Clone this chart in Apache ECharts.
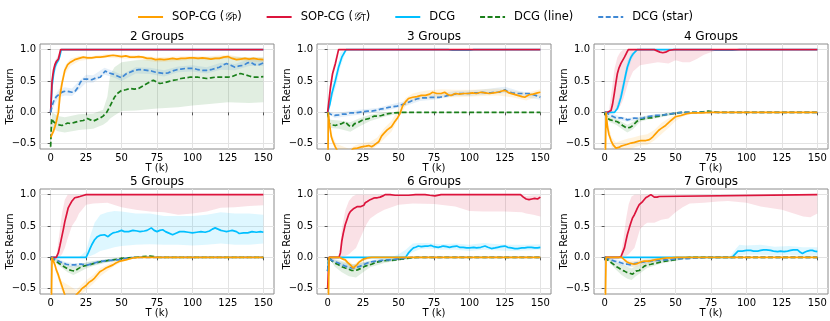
<!DOCTYPE html>
<html>
<head>
<meta charset="utf-8">
<script src="https://cdn.jsdelivr.net/npm/echarts@6/dist/echarts.min.js"></script>
<style>html,body{margin:0;padding:0;background:#fff}#c{width:830px;height:321px}</style>
</head>
<body>
<div id="c"></div>
<script>
// ---------- data ----------
const SERIES_NAMES = ['SOP-CG (GP)', 'SOP-CG (GT)', 'DCG', 'DCG (line)', 'DCG (star)'];
const PANEL_TITLES = ['2 Groups', '3 Groups', '4 Groups', '5 Groups', '6 Groups', '7 Groups'];
const X_TICKS = [0, 25, 50, 75, 100, 125, 150];
const Y_TICKS = [-0.5, 0, 0.5, 1.0];

// ---- 2 Groups ----
const g2_sopP = [[0,-0.4],[1,-0.37],[2,-0.3],[3,-0.23],[4,-0.15],[5.5,0],[6.5,0.25],[8,0.46],[10,0.67],[12,0.76],[14,0.8],[17,0.84],[20,0.86],[23,0.88],[26,0.87],[29,0.87],[32,0.88],[35,0.88],[38,0.89],[41,0.9],[44,0.91],[47,0.9],[50,0.89],[53,0.9],[56,0.88],[59,0.88],[62,0.89],[65,0.88],[68,0.86],[71,0.86],[74,0.84],[77,0.85],[80,0.84],[83,0.85],[86,0.86],[89,0.85],[92,0.86],[95,0.86],[98,0.87],[101,0.87],[104,0.86],[107,0.87],[110,0.86],[113,0.85],[116,0.86],[119,0.86],[122,0.88],[125,0.89],[128,0.86],[131,0.84],[134,0.85],[137,0.86],[140,0.85],[143,0.86],[146,0.85],[150,0.84]];
const g2_sopT = [[0,0],[1,0.5],[2,0.67],[3,0.76],[4,0.81],[5.5,0.85],[6.3,0.88],[7,1],[150,1]];
const g2_dcg  = [[0,0],[1,0.42],[2,0.6],[3,0.72],[4,0.78],[5.5,0.83],[6.5,0.9],[7.5,1],[150,1]];
const g2_line = [[0,-0.55],[0.7,-0.1],[2,-0.15],[4,-0.18],[6,-0.2],[8,-0.21],[10,-0.19],[12,-0.17],[14,-0.18],[17,-0.16],[20,-0.14],[23,-0.13],[26,-0.1],[28,-0.12],[30,-0.14],[32,-0.12],[35,-0.09],[37,-0.06],[39.5,0],[41,0.06],[43,0.15],[45,0.24],[47,0.3],[50,0.35],[53,0.36],[56,0.38],[59,0.37],[62,0.38],[65,0.42],[68,0.46],[71,0.5],[72.5,0.51],[75,0.48],[77,0.46],[80,0.47],[83,0.49],[86,0.51],[89,0.52],[92,0.54],[95,0.55],[98,0.56],[101,0.56],[104,0.56],[107,0.55],[110,0.54],[113,0.55],[116,0.56],[119,0.56],[122,0.56],[125,0.56],[128,0.57],[131,0.6],[134,0.62],[137,0.6],[140,0.58],[143,0.56],[146,0.56],[150,0.57]];
const g2_star = [[0,0.0],[1,0.1],[2,0.17],[3,0.21],[4,0.25],[5.5,0.28],[7,0.31],[9,0.33],[11,0.34],[13,0.33],[15,0.32],[17,0.33],[19,0.39],[21,0.48],[23,0.53],[26,0.53],[29,0.52],[32,0.55],[35,0.56],[37,0.62],[38.5,0.66],[41,0.63],[44,0.61],[47,0.58],[50,0.55],[53,0.61],[56,0.64],[59,0.67],[62,0.68],[65,0.68],[68,0.67],[71,0.66],[74,0.64],[77,0.63],[80,0.62],[83,0.63],[86,0.66],[89,0.68],[92,0.69],[95,0.7],[98,0.7],[101,0.7],[104,0.68],[107,0.67],[110,0.67],[113,0.68],[116,0.7],[119,0.72],[122,0.76],[124,0.78],[127,0.75],[130,0.72],[133,0.74],[136,0.75],[139,0.79],[141,0.8],[144,0.76],[147,0.76],[150,0.79]];
const g2_sopP_band = [[0,-0.45,-0.35],[3,-0.3,-0.15],[6,0.0,0.35],[8,0.38,0.55],[10,0.6,0.74],[14,0.74,0.86],[20,0.82,0.9],[30,0.85,0.9],[40,0.87,0.93],[50,0.86,0.92],[60,0.85,0.91],[75,0.8,0.88],[90,0.82,0.89],[100,0.84,0.9],[110,0.83,0.89],[125,0.85,0.92],[135,0.82,0.88],[150,0.8,0.87]];
const g2_sopT_band = [[0,0,0],[1,0.42,0.56],[3,0.7,0.82],[5,0.8,0.9],[7,1,1]];
const g2_dcg_band  = [[0,0,0],[1,0.34,0.5],[3,0.64,0.8],[5,0.76,0.88],[7.5,1,1]];
const g2_line_band = [[0,-0.6,-0.5],[1,-0.25,0.0],[5,-0.3,-0.06],[10,-0.32,-0.08],[20,-0.28,-0.03],[30,-0.26,-0.02],[37,-0.2,0.04],[40,-0.15,0.25],[42,-0.1,0.6],[45,-0.05,0.72],[50,0.02,0.8],[60,0.03,0.83],[75,0.06,0.85],[90,0.08,0.86],[100,0.11,0.87],[110,0.13,0.88],[125,0.16,0.89],[140,0.15,0.88],[150,0.16,0.88]];
const g2_star_band = [[0,0,0.04],[3,0.13,0.27],[6,0.24,0.37],[10,0.27,0.4],[15,0.26,0.38],[20,0.36,0.5],[25,0.47,0.6],[30,0.47,0.59],[38,0.6,0.71],[45,0.55,0.65],[50,0.5,0.6],[60,0.62,0.72],[70,0.61,0.71],[80,0.57,0.67],[90,0.64,0.73],[100,0.65,0.75],[110,0.62,0.72],[120,0.68,0.79],[130,0.67,0.77],[140,0.74,0.85],[150,0.74,0.84]];

// ---- 3 Groups ----
const g3_sopP = [[0,-1.5],[0.5,0],[1,-0.14],[2.6,-0.39],[4,-0.48],[5.4,-0.55],[7,-0.62],[10,-0.68],[15,-0.66],[18,-0.58],[21,-0.57],[24,-0.55],[27,-0.54],[29,-0.53],[31,-0.55],[33,-0.52],[36,-0.47],[38,-0.38],[39.5,-0.34],[42,-0.28],[45,-0.23],[47,-0.16],[49,-0.1],[51,-0.02],[53,0.11],[55,0.17],[57,0.22],[60,0.24],[63,0.25],[66,0.27],[69,0.27],[72,0.29],[74,0.32],[77,0.3],[80,0.3],[82.5,0.32],[85,0.28],[87,0.27],[90,0.3],[93,0.29],[96,0.3],[99,0.3],[102,0.31],[105,0.3],[108,0.32],[111,0.31],[114,0.3],[117,0.31],[120,0.32],[123,0.34],[125,0.35],[128,0.31],[131,0.29],[134,0.27],[137,0.25],[139,0.24],[142,0.28],[145,0.29],[148,0.31],[150,0.32]];
const g3_sopT = [[0,0],[1,0.2],[2,0.4],[3.5,0.62],[5.5,0.78],[6.5,0.88],[7.7,1],[150,1]];
const g3_dcg  = [[0,0],[1.5,0.12],[3,0.3],[5.5,0.51],[7.7,0.72],[10,0.88],[12,0.96],[13,1],[85,1],[88,0.99],[100,0.99],[103,1],[150,1]];
const g3_line = [[0,0],[1.2,-0.18],[3,-0.2],[5.5,-0.21],[8,-0.19],[10,-0.18],[12.4,-0.15],[14,-0.19],[16,-0.23],[17.5,-0.22],[19,-0.18],[21,-0.17],[24,-0.13],[27,-0.11],[29,-0.1],[31,-0.08],[33,-0.06],[36,-0.06],[38,-0.05],[41,-0.03],[43,-0.02],[47,-0.01],[52,0],[150,0]];
const g3_star = [[0,0],[2,-0.03],[5,-0.05],[8,-0.04],[10,-0.03],[13,-0.03],[16,-0.01],[19,-0.01],[22,0],[25,0.01],[28,0.02],[31,0.02],[34,0.03],[37,0.05],[40,0.06],[43,0.08],[46,0.09],[49,0.1],[52,0.12],[55,0.14],[58,0.17],[61,0.2],[64,0.22],[67,0.23],[70,0.23],[73,0.24],[76,0.24],[79,0.24],[82,0.25],[85,0.27],[88,0.28],[91,0.3],[94,0.3],[97,0.3],[100,0.3],[103,0.31],[106,0.31],[109,0.32],[112,0.31],[115,0.31],[118,0.32],[121,0.32],[123,0.34],[125,0.36],[127,0.33],[130,0.31],[133,0.3],[136,0.3],[139,0.3],[142,0.3],[145,0.28],[148,0.26],[150,0.24]];
const g3_sopP_band = [[0.5,-0.05,0.05],[2.6,-0.45,-0.32],[6,-0.62,-0.5],[15,-0.72,-0.58],[20,-0.64,-0.52],[25,-0.61,-0.49],[30,-0.61,-0.47],[35,-0.53,-0.4],[40,-0.42,-0.25],[45,-0.31,-0.14],[50,-0.1,0.06],[55,0.1,0.23],[60,0.18,0.3],[65,0.21,0.33],[70,0.22,0.35],[80,0.24,0.37],[90,0.24,0.36],[100,0.25,0.36],[110,0.26,0.37],[120,0.27,0.38],[130,0.24,0.35],[140,0.19,0.31],[150,0.26,0.37]];
const g3_sopT_band = [[0,0,0],[2,0.3,0.5],[4,0.58,0.74],[6,0.78,0.9],[7.7,1,1]];
const g3_dcg_band  = [[0,0,0],[3,0.2,0.4],[6,0.42,0.66],[9,0.72,0.95],[12,0.92,1.0],[14,1,1]];
const g3_line_band = [[0,0,0],[2,-0.25,-0.12],[8,-0.26,-0.13],[16,-0.31,-0.16],[22,-0.23,-0.1],[30,-0.14,-0.04],[40,-0.07,0.0],[50,-0.02,0.01],[60,0,0]];
const g3_star_band = [[0,-0.02,0.02],[5,-0.09,-0.02],[15,-0.06,0.02],[25,-0.03,0.05],[35,0.0,0.07],[45,0.05,0.13],[55,0.1,0.18],[65,0.18,0.27],[75,0.2,0.29],[90,0.26,0.34],[100,0.26,0.35],[110,0.28,0.37],[125,0.31,0.41],[135,0.26,0.34],[150,0.2,0.28]];

// ---- 4 Groups ----
const g4_sopP = [[0,-1.5],[1,0],[2,-0.23],[3,-0.35],[4.5,-0.45],[6,-0.52],[7,-0.55],[8,-0.57],[10,-0.56],[11.5,-0.54],[13,-0.53],[14,-0.53],[16,-0.51],[18.6,-0.49],[21,-0.48],[22,-0.47],[24,-0.46],[25.6,-0.45],[27,-0.46],[29,-0.45],[31,-0.44],[32.5,-0.42],[34,-0.39],[36,-0.34],[38,-0.29],[39.7,-0.26],[43,-0.21],[46.8,-0.13],[50,-0.07],[53.8,-0.05],[58,-0.02],[62,-0.01],[68,-0.01],[75,0],[150,0]];
const g4_sopT = [[0,0],[2,0],[4.5,0.03],[5.5,0.12],[6.8,0.3],[8,0.48],[9,0.62],[10,0.7],[11.5,0.78],[13,0.84],[14,0.88],[15.5,0.95],[16.7,1],[35,1],[37,0.98],[39,0.96],[41,0.95],[43,0.96],[45.6,0.99],[49,1],[150,1]];
const g4_dcg  = [[0,0],[7,0],[8,0.02],[9,0.06],[10,0.13],[11.5,0.24],[13,0.4],[14,0.51],[15,0.62],[16,0.72],[17.5,0.82],[18.6,0.88],[20,0.93],[21,0.96],[23,1],[75,1],[78,0.99],[90,0.99],[95,1],[150,1]];
const g4_line = [[0,0],[2,-0.1],[4,-0.12],[5.6,-0.13],[7,-0.14],[9,-0.15],[11,-0.18],[12.7,-0.21],[14,-0.23],[15.5,-0.25],[16.7,-0.26],[18,-0.24],[20,-0.21],[22,-0.16],[24,-0.12],[26,-0.11],[28,-0.1],[31,-0.09],[33,-0.09],[36,-0.07],[39,-0.06],[42,-0.04],[45,-0.03],[48,-0.02],[51,-0.01],[55,0],[65,0],[70,0.01],[73,0.02],[76,0.01],[80,0],[150,0]];
const g4_star = [[0,0],[2,-0.02],[4.5,-0.05],[7,-0.08],[9,-0.09],[12,-0.09],[14,-0.1],[16,-0.12],[18,-0.11],[21,-0.09],[24,-0.1],[27,-0.09],[30,-0.07],[33,-0.06],[36,-0.05],[39,-0.05],[42,-0.04],[45,-0.03],[48,-0.02],[51,-0.01],[55,0],[150,0]];
const g4_sopP_band = [[1,0,0],[2,-0.3,-0.15],[5,-0.56,-0.4],[8,-0.66,-0.48],[12,-0.63,-0.45],[16,-0.61,-0.42],[20,-0.57,-0.4],[25,-0.53,-0.37],[30,-0.52,-0.35],[35,-0.45,-0.28],[40,-0.35,-0.17],[45,-0.25,-0.1],[50,-0.14,-0.03],[55,-0.07,0.0],[60,-0.03,0.0],[70,0,0]];
const g4_sopT_band = [[3,0,0.02],[5,0.0,0.35],[7,0.02,0.7],[9,0.05,0.88],[11,0.1,0.96],[13,0.2,1],[15,0.35,1],[17,0.5,1],[20,0.65,1],[25,0.75,1],[30,0.77,1],[37.5,0.8,1],[45,0.78,1],[50,0.83,1],[55,0.8,1],[60,0.8,1],[65,0.85,1],[70,0.92,1],[75,0.96,1],[80,1,1]];
const g4_dcg_band  = [[7,0,0],[10,0.05,0.22],[13,0.3,0.5],[16,0.62,0.82],[19,0.84,0.95],[23,1,1]];
const g4_line_band = [[0,0,0],[3,-0.15,-0.06],[8,-0.2,-0.1],[12,-0.26,-0.15],[16,-0.32,-0.2],[20,-0.27,-0.15],[25,-0.15,-0.07],[30,-0.12,-0.06],[40,-0.08,-0.03],[50,-0.03,0.0],[60,0,0]];
const g4_star_band = [[0,0,0],[5,-0.08,-0.02],[10,-0.12,-0.06],[16,-0.15,-0.09],[25,-0.12,-0.07],[35,-0.08,-0.03],[45,-0.05,-0.01],[55,0,0]];

// ---- 5 Groups ----
const g5_sopP = [[0,-1.5],[1,0],[2,-0.06],[3,-0.12],[4,-0.2],[5.4,-0.28],[6.5,-0.36],[7.7,-0.44],[9,-0.53],[10,-0.6],[12,-0.68],[16,-0.68],[18,-0.6],[20.6,-0.54],[22,-0.5],[23,-0.48],[25,-0.45],[27,-0.4],[29,-0.37],[31,-0.33],[32,-0.3],[34.7,-0.23],[37,-0.2],[39,-0.17],[42,-0.14],[44,-0.12],[46,-0.09],[49,-0.06],[53,-0.04],[58,-0.01],[63,0],[150,0]];
const g5_sopT = [[0,0],[4,0],[5.4,0.07],[6.5,0.18],[7.7,0.31],[9,0.45],[10,0.57],[11.2,0.68],[12.4,0.79],[13.6,0.84],[14.8,0.89],[16,0.92],[17,0.95],[19,0.96],[20.6,0.97],[22,0.98],[23.5,0.99],[25,1],[150,1]];
const g5_dcg  = [[0,0],[25,0],[26.5,0.07],[28,0.15],[29,0.2],[31,0.28],[33,0.33],[34.7,0.35],[36,0.36],[38,0.36],[40.5,0.33],[42,0.36],[44,0.39],[46,0.4],[47.6,0.41],[50,0.43],[52,0.41],[55,0.41],[58,0.43],[61,0.42],[63,0.41],[66,0.42],[68,0.43],[71,0.47],[73,0.43],[75,0.41],[77,0.43],[79,0.44],[81,0.41],[83,0.39],[86,0.36],[88,0.38],[91,0.41],[94,0.41],[97,0.4],[100,0.39],[103,0.4],[106,0.41],[109,0.4],[112,0.42],[114,0.45],[116,0.47],[118,0.45],[120,0.43],[122,0.42],[124,0.41],[126,0.42],[128,0.43],[131,0.41],[133,0.38],[136,0.39],[139,0.39],[142,0.41],[145,0.4],[148,0.41],[150,0.4]];
const g5_line = [[0,0],[2,-0.03],[4,-0.06],[6,-0.1],[7.7,-0.12],[9.5,-0.15],[11,-0.17],[13,-0.2],[14.8,-0.21],[16,-0.22],[17,-0.22],[18,-0.2],[19.5,-0.18],[21,-0.16],[23,-0.14],[25,-0.13],[27.7,-0.12],[30,-0.1],[32,-0.09],[35,-0.07],[38,-0.06],[41,-0.05],[44,-0.04],[47,-0.03],[49,-0.02],[52,-0.01],[55,-0.01],[60,0],[65,0.01],[70,0.02],[73,0.01],[76,0],[150,0]];
const g5_star = [[0,0],[2,-0.02],[4,-0.04],[6.5,-0.07],[9,-0.09],[11,-0.11],[13.6,-0.12],[15,-0.13],[17,-0.12],[20,-0.11],[22,-0.11],[24,-0.12],[26.5,-0.12],[29,-0.1],[31,-0.09],[34,-0.07],[37,-0.06],[40,-0.05],[43,-0.05],[46,-0.04],[49,-0.04],[52,-0.02],[55,-0.01],[60,0],[150,0]];
const g5_sopP_band = [[1,0,0],[4,-0.25,-0.15],[8,-0.55,-0.38],[18,-0.7,-0.52],[22,-0.58,-0.43],[26,-0.5,-0.35],[30,-0.42,-0.28],[35,-0.3,-0.17],[40,-0.22,-0.12],[45,-0.14,-0.06],[50,-0.08,-0.03],[55,-0.04,0],[60,0,0]];
const g5_sopT_band = [[4,0,0],[6,0.0,0.35],[8,0.05,0.7],[10,0.15,0.92],[12,0.3,1],[15,0.5,1],[18,0.6,1],[20,0.7,1],[25,0.84,1],[30,0.86,1],[40,0.87,1],[50,0.8,1],[60,0.76,1],[70,0.73,1],[80,0.72,1],[90,0.68,1],[100,0.7,1],[110,0.73,1],[120,0.79,1],[130,0.8,1],[140,0.82,1],[150,0.83,1]];
const g5_dcg_band  = [[20,0,0],[25,0,0.1],[28,0.02,0.35],[31,0.05,0.55],[35,0.1,0.68],[40,0.13,0.72],[45,0.16,0.74],[50,0.18,0.73],[60,0.2,0.7],[70,0.21,0.7],[80,0.2,0.66],[90,0.2,0.66],[100,0.19,0.66],[110,0.2,0.68],[120,0.22,0.72],[130,0.2,0.7],[140,0.2,0.7],[150,0.22,0.68]];
const g5_line_band = [[0,0,0],[4,-0.1,-0.02],[8,-0.17,-0.07],[12,-0.24,-0.12],[16,-0.28,-0.15],[20,-0.24,-0.12],[25,-0.18,-0.08],[30,-0.14,-0.06],[40,-0.08,-0.03],[50,-0.04,0],[60,-0.01,0.01],[70,0,0.03],[75,0,0]];
const g5_star_band = [[0,0,0],[5,-0.07,-0.02],[10,-0.14,-0.07],[15,-0.16,-0.09],[25,-0.15,-0.09],[35,-0.1,-0.04],[45,-0.07,-0.02],[55,-0.02,0],[60,0,0]];

// ---- 6 Groups ----
const g6_sopP = [[0,-1.5],[1,0],[8,0],[10,-0.02],[12.4,-0.04],[14,-0.08],[16,-0.12],[17,-0.15],[18,-0.17],[19,-0.15],[20.6,-0.12],[22,-0.08],[23,-0.06],[25,-0.03],[26.5,-0.02],[28,-0.01],[31,0],[150,0]];
const g6_sopT = [[0,-0.5],[1,0],[8,0],[9,0.07],[10,0.26],[11,0.38],[12.4,0.52],[13.6,0.6],[14.8,0.68],[16,0.73],[17,0.76],[18.5,0.78],[19.5,0.79],[21,0.81],[22,0.82],[23.5,0.81],[24.6,0.8],[25.5,0.83],[26.5,0.87],[28,0.89],[30,0.92],[32,0.94],[33.5,0.95],[35,0.95],[37,0.96],[39,0.98],[40.5,1],[44,1],[47.6,0.99],[52,0.99],[57,0.99],[62,1],[68.7,1],[72,0.99],[75.7,0.98],[80,1],[136,1],[138,0.96],[140,0.93],[142,0.92],[144,0.93],[146,0.94],[148,0.93],[150,0.96]];
const g6_dcg  = [[0,-0.22],[1,0],[55,0],[57,0.07],[59,0.12],[60.5,0.15],[62,0.16],[64,0.18],[66,0.17],[68.7,0.18],[71,0.18],[73,0.19],[75,0.17],[78,0.16],[80,0.17],[81.5,0.18],[84,0.17],[86,0.16],[88,0.17],[91,0.18],[93,0.16],[95.6,0.16],[98,0.15],[100,0.15],[103,0.16],[105,0.15],[108,0.16],[111,0.18],[113,0.16],[115.5,0.14],[118,0.15],[120,0.16],[122,0.17],[125,0.18],[127,0.16],[129.6,0.15],[132,0.14],[134,0.14],[137,0.15],[139,0.15],[141,0.16],[143.7,0.16],[146,0.15],[148,0.15],[150,0.16]];
const g6_line = [[0,-0.22],[1,0],[3,-0.06],[5,-0.09],[7.7,-0.12],[10,-0.15],[12.4,-0.17],[15,-0.19],[17,-0.21],[19.5,-0.21],[21,-0.2],[23,-0.18],[25,-0.16],[26.5,-0.14],[28,-0.13],[31,-0.11],[34,-0.08],[38,-0.06],[42,-0.05],[45,-0.05],[48,-0.04],[52,-0.03],[55,-0.02],[59,-0.01],[63,0],[150,0]];
const g6_star = [[0,-0.22],[1,0],[2,-0.04],[5,-0.07],[7.7,-0.09],[10,-0.12],[12.4,-0.14],[15,-0.16],[17,-0.17],[19,-0.17],[20.6,-0.16],[23,-0.14],[25,-0.12],[28,-0.09],[31,-0.07],[34,-0.06],[38,-0.05],[42,-0.04],[45,-0.04],[48,-0.03],[52,-0.02],[55,-0.01],[59,0],[150,0]];
const g6_sopP_band = [[8,0,0],[12,-0.07,-0.01],[16,-0.17,-0.07],[18,-0.22,-0.12],[21,-0.17,-0.07],[25,-0.07,0],[30,-0.02,0],[33,0,0]];
const g6_sopT_band = [[8,0,0],[10,0.0,0.45],[12.5,0.02,0.75],[15,0.05,0.9],[17.5,0.1,0.97],[20,0.15,1],[22.5,0.28,1],[25,0.41,1],[27.5,0.53,1],[30,0.62,1],[35,0.7,1],[40,0.76,1],[45,0.8,1],[50,0.84,1],[60,0.86,1],[75,0.85,1],[90,0.81,1],[100,0.74,1],[110,0.73,1],[125,0.73,1],[137,0.72,1],[140,0.7,0.98],[145,0.68,0.99],[150,0.65,0.99]];
const g6_dcg_band  = [[45,0,0],[50,0,0.05],[55,0,0.12],[60,0.08,0.22],[65,0.13,0.23],[70,0.14,0.23],[80,0.12,0.21],[90,0.12,0.22],[100,0.1,0.2],[110,0.12,0.23],[120,0.11,0.21],[130,0.1,0.2],[140,0.11,0.2],[150,0.12,0.21]];
const g6_line_band = [[1,0,0],[5,-0.15,-0.03],[10,-0.24,-0.06],[15,-0.3,-0.1],[20,-0.32,-0.12],[25,-0.24,-0.08],[30,-0.16,-0.06],[40,-0.09,-0.03],[50,-0.05,-0.01],[60,-0.02,0],[65,0,0]];
const g6_star_band = [[1,0,0],[5,-0.1,-0.04],[10,-0.16,-0.08],[17,-0.22,-0.12],[25,-0.16,-0.08],[35,-0.09,-0.03],[45,-0.06,-0.02],[55,-0.02,0],[60,0,0]];

// ---- 7 Groups ----
const g7_sopP = [[0,-1.5],[1,0],[12,0],[13,-0.02],[14,-0.04],[15.5,-0.07],[17.4,-0.09],[19,-0.1],[21,-0.11],[23,-0.1],[24.4,-0.09],[26,-0.07],[28,-0.06],[30,-0.06],[31.5,-0.06],[33,-0.05],[35,-0.04],[38,-0.03],[40,-0.02],[44,-0.01],[47,-0.01],[51,0],[150,0]];
const g7_sopT = [[0,0],[10,0],[11.5,0.01],[12.7,0.04],[14,0.15],[15,0.26],[16,0.36],[17.4,0.47],[18.5,0.55],[19.7,0.63],[21,0.68],[22,0.73],[23,0.78],[24.4,0.84],[25.5,0.86],[26.8,0.89],[28,0.92],[29,0.95],[30.5,0.97],[31.5,0.99],[32.6,1],[33.5,0.97],[35,0.96],[37,0.96],[38.5,0.97],[39.7,1],[150,1]];
const g7_dcg  = [[0,0],[90,0],[91.5,0.04],[92.5,0.07],[94,0.1],[95,0.11],[97,0.1],[98,0.1],[100,0.11],[103,0.11],[105,0.1],[108,0.1],[110,0.11],[112,0.12],[114,0.12],[117,0.11],[119,0.1],[122,0.09],[124,0.1],[126.5,0.09],[129,0.1],[131,0.11],[133,0.12],[136,0.12],[138,0.08],[139.5,0.06],[141,0.08],[143,0.1],[145,0.11],[146.5,0.11],[148,0.1],[150,0.09]];
const g7_line = [[0,0],[1.5,-0.03],[3.3,-0.06],[5,-0.09],[6.8,-0.12],[8.5,-0.15],[10,-0.17],[12,-0.2],[14,-0.22],[15.5,-0.24],[17.4,-0.25],[18.5,-0.26],[19.7,-0.27],[21,-0.24],[22,-0.22],[23,-0.21],[24.4,-0.21],[26,-0.18],[28,-0.14],[30,-0.12],[32.6,-0.11],[35,-0.1],[37,-0.09],[40,-0.07],[43,-0.06],[46,-0.05],[49,-0.04],[52,-0.02],[56,-0.01],[60,0],[150,0]];
const g7_star = [[0,0],[2,-0.02],[4.5,-0.04],[7,-0.06],[9,-0.07],[12,-0.09],[14,-0.11],[16,-0.11],[18.5,-0.12],[21,-0.1],[23,-0.09],[26,-0.08],[29,-0.07],[32,-0.06],[35,-0.05],[38,-0.05],[42,-0.04],[45,-0.04],[49,-0.03],[54,-0.02],[58.5,-0.02],[63,-0.01],[68,-0.01],[72,0],[150,0]];
const g7_sopP_band = [[12,0,0],[15,-0.1,-0.03],[20,-0.16,-0.06],[25,-0.14,-0.04],[30,-0.1,-0.02],[40,-0.05,0],[50,-0.01,0],[52,0,0]];
const g7_sopT_band = [[11,0,0],[13,0.0,0.25],[15,0.02,0.6],[17,0.05,0.85],[19,0.1,0.97],[21,0.15,1],[23,0.3,1],[25,0.45,1],[28,0.52,1],[30,0.55,1],[35,0.55,1],[40,0.6,1],[45,0.62,1],[50,0.72,1],[55,0.8,1],[60,0.86,1],[70,0.87,1],[80,0.89,1],[87,0.9,1],[100,0.87,1],[110,0.81,1],[125,0.76,1],[140,0.65,1],[145,0.64,1],[150,0.7,1]];
const g7_dcg_band  = [[88,0,0],[92,0.0,0.12],[95,0.03,0.2],[100,0.04,0.19],[110,0.04,0.2],[120,0.03,0.17],[130,0.04,0.18],[140,0.02,0.16],[150,0.03,0.16]];
const g7_line_band = [[0,0,0],[4,-0.1,-0.02],[8,-0.2,-0.08],[12,-0.28,-0.12],[16,-0.34,-0.15],[19,-0.36,-0.18],[22,-0.3,-0.14],[26,-0.24,-0.12],[30,-0.17,-0.07],[40,-0.1,-0.04],[50,-0.06,-0.02],[60,-0.01,0],[62,0,0]];
const g7_star_band = [[0,0,0],[5,-0.07,-0.02],[12,-0.13,-0.05],[18,-0.16,-0.08],[25,-0.12,-0.05],[35,-0.08,-0.02],[50,-0.05,-0.01],[65,-0.02,0],[72,0,0]];

// ---------- assembly ----------
const PANELS = [
  {lines:[g2_sopP,g2_sopT,g2_dcg,g2_line,g2_star], bands:[g2_sopP_band,g2_sopT_band,g2_dcg_band,g2_line_band,g2_star_band]},
  {lines:[g3_sopP,g3_sopT,g3_dcg,g3_line,g3_star], bands:[g3_sopP_band,g3_sopT_band,g3_dcg_band,g3_line_band,g3_star_band]},
  {lines:[g4_sopP,g4_sopT,g4_dcg,g4_line,g4_star], bands:[g4_sopP_band,g4_sopT_band,g4_dcg_band,g4_line_band,g4_star_band]},
  {lines:[g5_sopP,g5_sopT,g5_dcg,g5_line,g5_star], bands:[g5_sopP_band,g5_sopT_band,g5_dcg_band,g5_line_band,g5_star_band]},
  {lines:[g6_sopP,g6_sopT,g6_dcg,g6_line,g6_star], bands:[g6_sopP_band,g6_sopT_band,g6_dcg_band,g6_line_band,g6_star_band]},
  {lines:[g7_sopP,g7_sopT,g7_dcg,g7_line,g7_star], bands:[g7_sopP_band,g7_sopT_band,g7_dcg_band,g7_line_band,g7_star_band]}
];

const COLORS = ['#FFA000', '#DC143C', '#00BFFF', '#1a7f1a', '#3f88d4'];
const DASHED = [false, false, false, true, true];
const DRAW_ORDER = [2, 1, 3, 4, 0];
const FONT = 'DejaVu Sans';
const COL_LEFT = [40, 317, 594];
const ROW_TOP = [44, 189];
const GW = 234, GH = 105;
const YMIN = -0.585, YMAX = 1.09, XMIN = -7.5, XMAX = 157.5;

const grids = [], xAxes = [], yAxes = [], series = [];
const fmtY = v => (v < 0 ? '\u2212' + Math.abs(v).toFixed(1) : v.toFixed(1));

PANELS.forEach((p, i) => {
  const r = Math.floor(i / 3), c = i % 3;
  grids.push({left: COL_LEFT[c], top: ROW_TOP[r], width: GW, height: GH, show: true,
    borderColor: '#8c8c8c', borderWidth: 1, backgroundColor: 'transparent', outerBoundsMode: 'none', containLabel: false});
  xAxes.push({type: 'value', gridIndex: i, min: XMIN, max: XMAX, position: 'bottom',
    name: 'T (k)', nameLocation: 'middle', nameGap: 14, nameMoveOverlap: false,
    nameTextStyle: {fontFamily: FONT, fontSize: 10, color: '#000'},
    axisLine: {show: false},
    axisTick: {show: true, length: 3, lineStyle: {color: '#555'}, customValues: X_TICKS},
    axisLabel: {fontFamily: FONT, fontSize: 10, color: '#000', margin: 4, customValues: X_TICKS, showMinLabel: true, showMaxLabel: true},
    splitLine: {show: true, lineStyle: {color: '#e3e3e3', width: 1}}
  });
  xAxes.push({type: 'value', gridIndex: i, min: XMIN, max: XMAX, position: 'top',
    name: PANEL_TITLES[i], nameLocation: 'middle', nameGap: 1, nameMoveOverlap: false,
    nameTextStyle: {fontFamily: FONT, fontSize: 12, color: '#000'},
    axisLine: {show: false}, axisTick: {show: false}, axisLabel: {show: false}, splitLine: {show: false}
  });
  yAxes.push({type: 'value', gridIndex: i, min: YMIN, max: YMAX,
    name: 'Test Return', nameLocation: 'middle', nameGap: 25, nameMoveOverlap: false,
    nameTextStyle: {fontFamily: FONT, fontSize: 10, color: '#000'},
    axisLine: {show: false},
    axisTick: {show: true, length: 3, lineStyle: {color: '#555'}, customValues: Y_TICKS},
    axisLabel: {fontFamily: FONT, fontSize: 10, color: '#000', margin: 4, customValues: Y_TICKS, formatter: fmtY},
    splitLine: {show: true, lineStyle: {color: '#e3e3e3', width: 1}}
  });
  DRAW_ORDER.forEach(k => {
    const band = p.bands[k];
    series.push({type: 'custom', xAxisIndex: 2 * i, yAxisIndex: i, clip: true, silent: true, z: 1,
      data: [[band[0][0], band[0][1]]],
      renderItem: (params, api) => {
        const up = band.map(b => api.coord([b[0], b[2]]));
        const lo = band.slice().reverse().map(b => api.coord([b[0], b[1]]));
        return {type: 'polygon', shape: {points: up.concat(lo)}, style: {fill: COLORS[k], opacity: 0.13}};
      }
    });
  });
  DRAW_ORDER.forEach(k => {
    series.push({type: 'line', name: SERIES_NAMES[k], xAxisIndex: 2 * i, yAxisIndex: i, z: 3,
      data: p.lines[k], showSymbol: false, symbol: 'none', clip: true,
      lineStyle: {color: COLORS[k], width: 1.7, type: DASHED[k] ? [5, 2.5] : 'solid'},
      itemStyle: {color: COLORS[k]}
    });
  });
});

const chart = echarts.init(document.getElementById('c'), null, {renderer: 'canvas'});
chart.setOption({
  animation: false,
  backgroundColor: '#fff',
  legend: {
    data: SERIES_NAMES, top: 6, left: 'center', itemWidth: 25, itemHeight: 12, itemGap: 24,
    itemStyle: {opacity: 0},
    textStyle: {fontFamily: FONT, fontSize: 11.5, color: '#000', padding: [0, 0, 0, 4],
      rich: {
        t: {fontFamily: FONT, fontSize: 11.5, color: '#000'},
        g: {fontFamily: 'DejaVu Serif', fontStyle: 'italic', fontSize: 11.5, color: '#000'},
        s: {fontFamily: FONT, fontSize: 8, color: '#000', lineHeight: 8, verticalAlign: 'bottom'}
      }},
    formatter: name => {
      if (name === 'SOP-CG (GP)') return '{t|SOP-CG (}{g|\uD835\uDCA2}{s|P}{t|)}';
      if (name === 'SOP-CG (GT)') return '{t|SOP-CG (}{g|\uD835\uDCA2}{s|T}{t|)}';
      return name;
    }
  },
  grid: grids, xAxis: xAxes, yAxis: yAxes, series: series
});
</script>
</body>
</html>
